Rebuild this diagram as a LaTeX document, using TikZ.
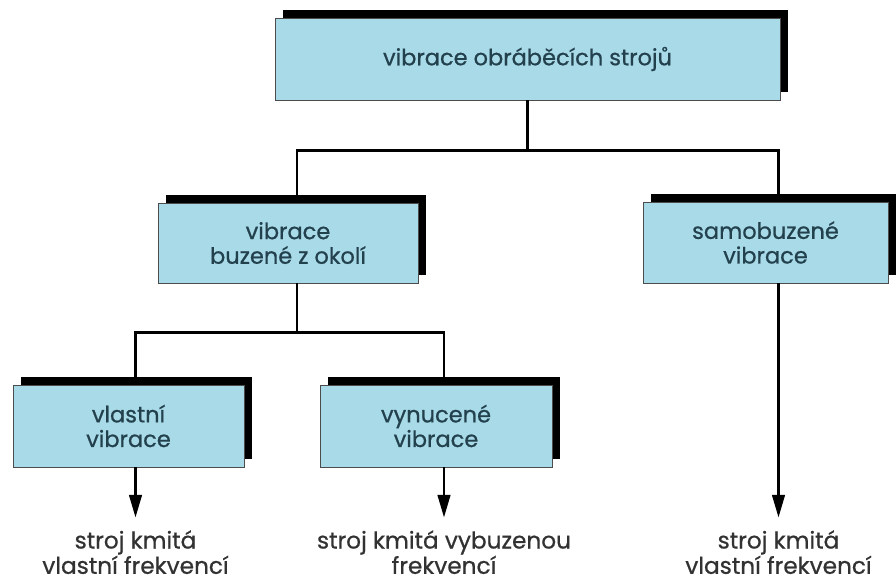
\documentclass[tikz,border=0pt]{standalone}
\usepackage{fontspec}
\setmainfont{Poppins}
\newfontfamily\boxfont{Poppins}[FakeBold=0.7]
\usepackage{xcolor}
\usetikzlibrary{arrows.meta,shadows,calc}
\definecolor{boxblue}{RGB}{168,218,232}
\definecolor{boxtext}{RGB}{35,64,77}
\definecolor{labeltext}{RGB}{50,50,50}

\begin{document}
\begin{tikzpicture}[x=0.025cm, y=-0.025cm,
	vbox/.style={draw=black!70, line width=0.6pt, fill=boxblue, text=boxtext, align=center, inner sep=0pt,
		general shadow={fill=black, shadow xshift=5.7pt, shadow yshift=5.7pt},
		font=\boxfont\fontsize{16}{17.5}\selectfont},
	line/.style={line width=1.6pt},
	arr/.style={line width=1.6pt, -{Triangle[length=16pt,width=9pt]}},
	result/.style={align=center, text=labeltext, inner sep=9pt, font=\boxfont\fontsize{16.5}{18}\selectfont}]
	\useasboundingbox (0,0) rectangle (896,583);
	
	\node [vbox, minimum width=12.625cm, minimum height=2.05cm] (top) at (527.5,59) {vibrace obráběcích strojů};
	
	\node [vbox, minimum width=6.5cm, minimum height=2cm] (buz) at (288,243) {vibrace\\buzené z okolí};
	\node [vbox, minimum width=6.125cm, minimum height=2.025cm] (samo) at (765.5,242.5) {samobuzené\\vibrace};
	
	\node [vbox, minimum width=5.775cm, minimum height=2.05cm] (vlast) at (128.5,426) {vlastní\\vibrace};
	\node [vbox, minimum width=5.8cm, minimum height=2.05cm] (vynuc) at (436,426) {vynucené\\vibrace};
	
	\node [result, anchor=north] (vlastres) at ($(vlast.south)+(7,50)$) {stroj kmitá\\vlastní frekvencí};
	\node [result, anchor=north] (vynucres) at ($(vynuc.south)+(8,50)$) {stroj kmitá vybuzenou\\frekvencí};
	\node [result, anchor=north] (samores) at ($(samo.south)+(13,234)$) {stroj kmitá\\vlastní frekvencí};
	
	\draw [line] (top.south) -- ++(0,50) coordinate (hubA);
	\draw [line] ($(buz.north)+(9,0)$) |- (hubA) -| ($(samo.north)+(13,0)$);
	
	\draw [line] ($(buz.south)+(9,0)$) -- ++(0,49) coordinate (hubB);
	\draw [line] ($(vlast.north)+(7,0)$) |- (hubB) -| ($(vynuc.north)+(8,0)$);
	
	\draw [arr] ($(vlast.south)+(7,0)$) -- (vlastres.north);
	\draw [arr] ($(vynuc.south)+(8,0)$) -- (vynucres.north);
	\draw [arr] ($(samo.south)+(13,0)$) -- (samores.north);
\end{tikzpicture}
\end{document}
